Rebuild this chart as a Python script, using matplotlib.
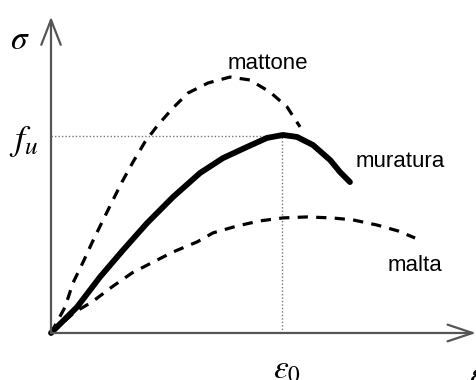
import numpy as np
import matplotlib
matplotlib.use("Agg")
import matplotlib.pyplot as plt

plt.rcParams["font.family"] = ["Liberation Sans", "DejaVu Sans"]
plt.rcParams["mathtext.fontset"] = "stix"

# deformazione normalizzata su eps0, tensione normalizzata su fu
eps_mattone = [0.0, 0.061, 0.095, 0.139, 0.177, 0.221, 0.264, 0.307, 0.355,
               0.407, 0.463, 0.528, 0.593, 0.680, 0.775, 0.861, 0.948,
               1.022, 1.078]
sig_mattone = [0.0, 0.132, 0.254, 0.360, 0.457, 0.563, 0.665, 0.766, 0.868,
               0.970, 1.056, 1.142, 1.218, 1.269, 1.299, 1.284, 1.223,
               1.147, 1.046]

eps_muratura = [0.0, 0.113, 0.212, 0.312, 0.416, 0.528, 0.645, 0.745, 0.848,
                0.935, 1.004, 1.065, 1.134, 1.208, 1.251, 1.294]
sig_muratura = [0.0, 0.132, 0.284, 0.421, 0.558, 0.690, 0.812, 0.888, 0.944,
                0.990, 1.005, 0.995, 0.954, 0.878, 0.817, 0.766]

eps_malta = [0.0, 0.104, 0.177, 0.264, 0.351, 0.442, 0.528, 0.632, 0.701,
             0.805, 0.905, 1.004, 1.108, 1.216, 1.307, 1.411, 1.502, 1.576]
sig_malta = [0.0, 0.107, 0.157, 0.234, 0.305, 0.360, 0.411, 0.462, 0.508,
             0.543, 0.569, 0.584, 0.589, 0.584, 0.574, 0.548, 0.518, 0.482]

eps0 = 1.0
fu = 1.0

fig = plt.figure(figsize=(4.77, 3.80), dpi=100)
ax = fig.add_axes([0, 0, 1, 1])
ax.set_xlim(-0.2208, 1.844)
ax.set_ylim(-0.2386, 1.690)
ax.axis("off")

# assi con freccia aperta
axis_col = "#555555"
ax.annotate("", xy=(1.84, 0), xytext=(0, 0),
            arrowprops=dict(arrowstyle="->,head_length=0.9,head_width=0.3",
                            color=axis_col, lw=1.6, mutation_scale=20,
                            shrinkA=0, shrinkB=0))
ax.annotate("", xy=(0, 1.605), xytext=(0, 0),
            arrowprops=dict(arrowstyle="->,head_length=0.9,head_width=0.35",
                            color=axis_col, lw=1.6, mutation_scale=20,
                            shrinkA=0, shrinkB=0))

# linee di riferimento fu / eps0
ax.plot([0, eps0], [fu, fu], ls=(0, (1, 1.5)), color="#777777", lw=1.0)
ax.plot([eps0, eps0], [0, fu], ls=(0, (1, 1.5)), color="#777777", lw=1.0)

ax.plot(eps_mattone, sig_mattone, color="black", lw=2.3,
        dashes=(3.2, 2.6), dash_capstyle="butt", dash_joinstyle="round")
ax.plot(eps_malta, sig_malta, color="black", lw=2.3,
        dashes=(3.2, 2.6), dash_capstyle="butt", dash_joinstyle="round")
ax.plot(eps_muratura, sig_muratura, color="black", lw=4.2,
        solid_capstyle="round", solid_joinstyle="round")

ax.text(0.94, 1.37, "mattone", fontsize=16, ha="center", va="center")
ax.text(1.32, 0.87, "muratura", fontsize=16, ha="left", va="center")
ax.text(1.455, 0.34, "malta", fontsize=16, ha="left", va="center")

ax.text(-0.135, 1.485, r"$\sigma$", fontsize=24, ha="center", va="center")
ax.text(-0.12, 0.97, r"$f_u$", fontsize=26, ha="center", va="center")
ax.text(1.02, -0.19, r"$\varepsilon_0$", fontsize=24, ha="center", va="center")
ax.text(1.81, -0.215, r"$\varepsilon$", fontsize=24, ha="left", va="center")

fig.savefig("out.png", dpi=100)
